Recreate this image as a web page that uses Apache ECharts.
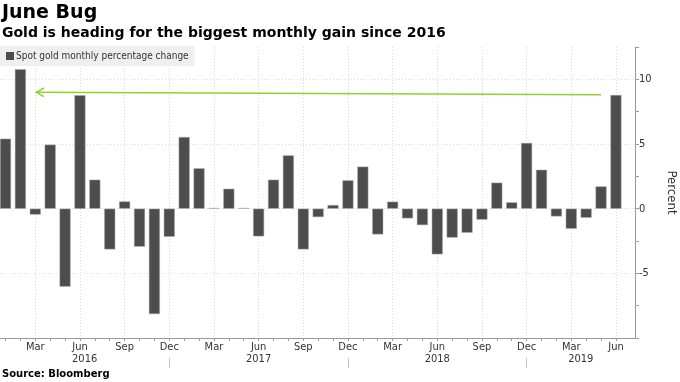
<!DOCTYPE html>
<html><head><meta charset="utf-8">
<script src="https://cdn.jsdelivr.net/npm/echarts@6/dist/echarts.min.js"></script>
<style>html,body{margin:0;padding:0;background:#fff}#c{width:680px;height:382px}</style>
</head><body><div id="c"></div>
<script>
// ---- data ----
const months = [
  '2016-01','2016-02','2016-03','2016-04','2016-05','2016-06','2016-07','2016-08','2016-09','2016-10','2016-11','2016-12',
  '2017-01','2017-02','2017-03','2017-04','2017-05','2017-06','2017-07','2017-08','2017-09','2017-10','2017-11','2017-12',
  '2018-01','2018-02','2018-03','2018-04','2018-05','2018-06','2018-07','2018-08','2018-09','2018-10','2018-11','2018-12',
  '2019-01','2019-02','2019-03','2019-04','2019-05','2019-06'
];
const changes = [
  5.41, 10.77, -0.46, 4.95, -6.03, 8.76, 2.24, -3.15, 0.56, -2.94, -8.15, -2.17,
  5.54, 3.12, 0.05, 1.54, 0.05, -2.14, 2.24, 4.12, -3.15, -0.65, 0.28, 2.19,
  3.25, -1.99, 0.54, -0.75, -1.27, -3.53, -2.24, -1.86, -0.85, 2.01, 0.49, 5.08,
  3.01, -0.60, -1.55, -0.70, 1.72, 8.79
];
const monthNames = ['Jan','Feb','Mar','Apr','May','Jun','Jul','Aug','Sep','Oct','Nov','Dec'];
const labelMonths = ['Mar','Jun','Sep','Dec'];
const seriesName = 'Spot gold monthly percentage change';
const yMin = -10, yMax = 12.5;
const yLabelValues = [-5, 0, 5, 10];
const arrowFrom = ['2019-05', 8.8];
const arrowTo = ['2016-03', 9.0];
const titleText = 'June Bug';
const subtitleText = 'Gold is heading for the biggest monthly gain since 2016';
const sourceText = 'Source: Bloomberg';

// ---- derived ----
const xMin = -0.37, xMax = 42.28;
const idx = m => months.indexOf(m);
const monthOf = i => monthNames[parseInt(months[i].slice(5), 10) - 1];
const yearOf = i => months[i].slice(0, 4);
const barData = changes.map((v, i) => [i, v]);
const allIdx = months.map((m, i) => i);
const quarterIdx = allIdx.filter(i => labelMonths.includes(monthOf(i)));
const decIdx = allIdx.filter(i => monthOf(i) === 'Dec');
const bounds = [xMin, ...decIdx, xMax];
const yearMid = [];
const yearLabel = {};
for (let k = 0; k < bounds.length - 1; k++) {
  const mid = (bounds[k] + bounds[k + 1]) / 2;
  yearMid.push(mid);
  const firstI = Math.max(0, Math.ceil(bounds[k] + 0.01));
  yearLabel[mid.toFixed(4)] = yearOf(Math.min(firstI + 1, months.length - 1));
}

const FONT = '"DejaVu Sans Condensed", "DejaVu Sans", sans-serif';
const BOLD = '"DejaVu Sans", sans-serif';
const chart = echarts.init(document.getElementById('c'), null, {renderer: 'canvas'});
chart.setOption({
  animation: false,
  backgroundColor: '#fff',
  title: [
    {text: titleText, left: 2, top: 4, padding: 0,
     textStyle: {fontFamily: BOLD, fontSize: 19, fontWeight: 'bold', color: '#000'}},
    {text: subtitleText, left: 2, top: 26, padding: 0,
     textStyle: {fontFamily: BOLD, fontSize: 14, fontWeight: 'bold', color: '#000'}},
    {text: sourceText, left: 2, top: 369, padding: 0,
     textStyle: {fontFamily: BOLD, fontSize: 10, fontWeight: 'bold', color: '#000'}}
  ],
  legend: {
    left: 0, top: 46, padding: [5, 6], backgroundColor: '#efefef',
    itemWidth: 8, itemHeight: 8, icon: 'rect',
    itemStyle: {borderWidth: 0},
    textStyle: {fontFamily: FONT, fontSize: 10, color: '#333', padding: [0, 0, 0, -3]},
    data: [seriesName]
  },
  grid: {left: 0, right: 45, top: 47, bottom: 44, containLabel: false, outerBoundsMode: 'none'},
  xAxis: [
    {type: 'value', position: 'bottom', min: xMin, max: xMax,
     axisLine: {show: true, onZero: false, lineStyle: {color: '#999', width: 1}},
     axisTick: {show: true, customValues: allIdx, length: 3, lineStyle: {color: '#999'}},
     axisLabel: {show: true, customValues: quarterIdx, formatter: v => monthOf(Math.round(v)),
                 fontFamily: FONT, fontSize: 11, color: '#333', margin: 4},
     splitLine: {show: false}},
    {type: 'value', position: 'bottom', offset: 20, min: xMin, max: xMax,
     axisLine: {show: true, onZero: false, lineStyle: {color: 'rgba(0,0,0,0)'}},
     axisTick: {show: true, customValues: decIdx, length: 10, lineStyle: {color: '#c4c4c4', width: 1}},
     axisLabel: {show: true, customValues: yearMid, formatter: v => yearLabel[v.toFixed(4)] || '',
                 fontFamily: FONT, fontSize: 11, color: '#333', margin: -4},
     splitLine: {show: false}},
    {type: 'value', position: 'top', min: xMin, max: xMax,
     axisLine: {show: false, onZero: false},
     axisTick: {show: false, customValues: quarterIdx},
     axisLabel: {show: false},
     splitLine: {show: true, lineStyle: {color: '#dcdcdc', type: [1, 2], width: 1}}}
  ],
  yAxis: [
    {type: 'value', position: 'right', min: yMin, max: yMax, interval: 2.5,
     name: 'Percent', nameLocation: 'middle', nameRotate: -90, nameGap: 30,
     nameTextStyle: {fontFamily: FONT, fontSize: 13, color: '#333'},
     axisLine: {show: true, onZero: false, lineStyle: {color: '#999'}},
     axisTick: {show: true, length: 4, lineStyle: {color: '#999'}},
     axisLabel: {fontFamily: FONT, fontSize: 11, color: '#333', margin: 4,
                 formatter: v => yLabelValues.includes(v) ? String(v) : ''},
     splitLine: {show: false}},
    {type: 'value', position: 'left', min: yMin, max: yMax, interval: 5,
     axisLine: {show: false, onZero: false}, axisTick: {show: false}, axisLabel: {show: false},
     splitLine: {show: true, showMinLine: false, showMaxLine: false,
                 lineStyle: {color: '#dcdcdc', type: [1, 2], width: 1}}}
  ],
  series: [{
    name: seriesName, type: 'bar', xAxisIndex: 0, yAxisIndex: 0,
    data: barData, barWidth: 11, z: 3,
    itemStyle: {color: '#4d4d4d', borderColor: '#a8a8a8', borderWidth: 0.5},
    markLine: {
      silent: true, z: 4, animation: false,
      symbol: ['none', 'path://M5,0 L10,8 L8.6,9 L5,2.6 L1.4,9 L0,8 Z M5,-9 L5.01,-9 L5,-8.99 Z'],
      symbolSize: [10, 18],
      label: {show: false},
      lineStyle: {color: '#8fd22e', width: 1.5, type: 'solid'},
      data: [[{coord: [idx(arrowFrom[0]), arrowFrom[1]]}, {coord: [idx(arrowTo[0]), arrowTo[1]]}]]
    }
  }]
});
</script></body></html>
